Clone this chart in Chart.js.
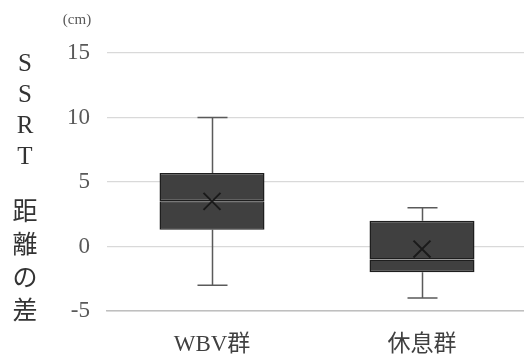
<!DOCTYPE html>
<html>
<head>
<meta charset="utf-8">
<script src="https://cdn.jsdelivr.net/npm/chart.js@4"></script>
<style>
  html, body { margin: 0; padding: 0; background: #fff; overflow: hidden; }
  #wrap { width: 524px; height: 360px; position: relative; overflow: hidden; }
</style>
</head>
<body>
<div id="wrap"><canvas id="c" width="527" height="360"></canvas></div>
<script>
// Groups and five-number summaries (cm)
const groups = ['WBV群', '休息群'];
const whiskerMin = [-3, -4];
const quartile1 = [1.3, -2];
const medians = [3.5, -1];
const quartile3 = [5.7, 2];
const whiskerMax = [10, 3];
const means = [3.5, -0.2];
const yMin = -5, yMax = 15, yStep = 5;
const axisTitle = 'SSRT距離の差';
const unitLabel = '(cm)';

const FONT = "'Liberation Serif', 'DejaVu Serif', 'Noto Sans CJK JP', serif";

// Whiskers are drawn under the boxes, using the chart's own scales
const whiskerPlugin = {
  id: 'whiskers',
  beforeDatasetsDraw(chart) {
    const { ctx, scales: { x, y } } = chart;
    ctx.save();
    ctx.strokeStyle = '#5a5a5a';
    ctx.lineWidth = 1.5;
    groups.forEach((g, i) => {
      const cx = Math.round(x.getPixelForValue(i)) + 0.5;
      const half = 15;
      const yTop = y.getPixelForValue(whiskerMax[i]);
      const yBot = y.getPixelForValue(whiskerMin[i]);
      const yQ3 = y.getPixelForValue(quartile3[i]);
      const yQ1 = y.getPixelForValue(quartile1[i]);
      ctx.beginPath();
      ctx.moveTo(cx, yTop); ctx.lineTo(cx, yQ3);
      ctx.moveTo(cx, yQ1); ctx.lineTo(cx, yBot);
      ctx.moveTo(cx - half, yTop); ctx.lineTo(cx + half, yTop);
      ctx.moveTo(cx - half, yBot); ctx.lineTo(cx + half, yBot);
      ctx.stroke();
    });
    ctx.restore();
  }
};

// Vertical axis title (one character per line) and unit label
const titlePlugin = {
  id: 'sideTitle',
  afterDraw(chart) {
    const { ctx } = chart;
    ctx.save();
    ctx.fillStyle = '#333333';
    ctx.textAlign = 'center';
    ctx.textBaseline = 'middle';
    const chars = Array.from(axisTitle);
    let yPos = 64;
    chars.forEach((ch, i) => {
      const latin = /[A-Za-z]/.test(ch);
      ctx.font = '25px ' + FONT;
      ctx.fillText(ch, 25, yPos);
      const next = chars[i + 1];
      if (next === undefined) return;
      const nextLatin = /[A-Za-z]/.test(next);
      if (latin && nextLatin) yPos += 31;
      else if (latin && !nextLatin) yPos += 56;
      else yPos += 33;
    });
    ctx.fillStyle = '#595959';
    ctx.font = '15px ' + FONT;
    ctx.fillText(unitLabel, 77, 20);
    ctx.restore();
  }
};

new Chart(document.getElementById('c'), {
  type: 'bar',
  data: {
    labels: groups,
    datasets: [
      {
        label: 'lower',
        data: groups.map((g, i) => [quartile1[i], medians[i]]),
        backgroundColor: '#404040',
        borderColor: '#1e1e1e',
        borderWidth: 1.5,
        borderSkipped: false,
        grouped: false,
        categoryPercentage: 1,
        barPercentage: 0.5,
        order: 2
      },
      {
        label: 'upper',
        data: groups.map((g, i) => [medians[i], quartile3[i]]),
        backgroundColor: '#404040',
        borderColor: '#1e1e1e',
        borderWidth: 1.5,
        borderSkipped: false,
        grouped: false,
        categoryPercentage: 1,
        barPercentage: 0.5,
        order: 2
      },
      {
        type: 'line',
        label: 'mean',
        data: means,
        showLine: false,
        pointStyle: 'crossRot',
        pointRadius: 12,
        pointBorderWidth: 2,
        borderColor: '#1a1a1a',
        backgroundColor: '#1a1a1a',
        order: 1
      }
    ]
  },
  options: {
    responsive: false,
    animation: false,
    layout: { autoPadding: false, padding: { top: 53, right: 0, left: 0, bottom: 0 } },
    plugins: { legend: { display: false }, tooltip: { enabled: false } },
    scales: {
      x: {
        grid: { display: false, drawTicks: false },
        border: { display: true, color: '#bfbfbf', width: 1.5 },
        ticks: { color: '#404040', font: { family: FONT, size: 23 }, padding: 20 },
        afterFit(scale) { scale.height = 49; scale.paddingLeft = 0; scale.paddingRight = 0; }
      },
      y: {
        min: yMin,
        max: yMax,
        grid: { color: '#d9d9d9', lineWidth: 1.2, drawTicks: false },
        border: { display: false },
        ticks: { stepSize: yStep, color: '#595959', font: { family: FONT, size: 23 }, padding: 17 },
        afterFit(scale) { scale.width = 107; }
      }
    }
  },
  plugins: [whiskerPlugin, titlePlugin]
});
</script>
</body>
</html>
